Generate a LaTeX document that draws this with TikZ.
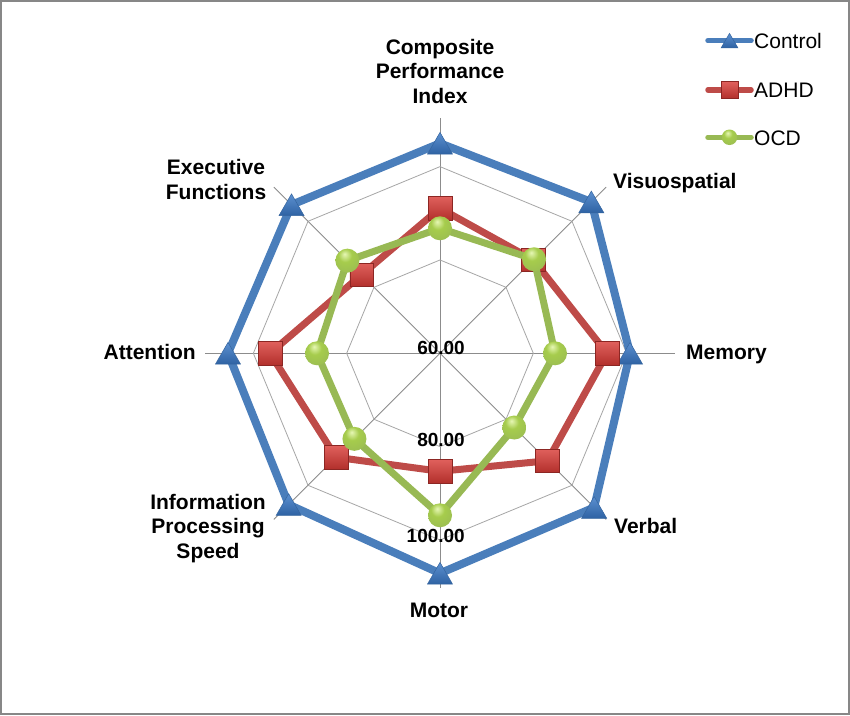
\documentclass[tikz,border=0pt]{standalone}
\usepackage{fontspec}
\setmainfont{Liberation Sans}
\usetikzlibrary{shapes.geometric,calc}
\definecolor{ctrlc}{HTML}{4A7EBB}
\definecolor{adhdc}{HTML}{BE4B48}
\definecolor{ocdc}{HTML}{98B954}
\definecolor{spokec}{HTML}{8C8C8C}
\definecolor{ringc}{HTML}{A6A6A6}
\definecolor{borderc}{HTML}{878787}
\definecolor{trit}{HTML}{5C90D0}
\definecolor{trib}{HTML}{2E62A3}
\definecolor{trid}{HTML}{35659F}
\definecolor{sqt}{HTML}{E0605C}
\definecolor{sqb}{HTML}{B2302C}
\definecolor{sqd}{HTML}{8C2623}
\definecolor{cin}{HTML}{E6F7B4}
\definecolor{cmid}{HTML}{A6CC4C}
\definecolor{cout}{HTML}{5E7E22}
\pgfdeclareradialshading{greenball}{\pgfpoint{-6bp}{14bp}}{color(0bp)=(cin); color(14bp)=(cmid); color(40bp)=(ocdc); color(66bp)=(cout)}
\begin{document}
\begin{tikzpicture}[x=1pt,y=1pt,
  spoke/.style={draw=spokec, line width=0.9pt},
  ring/.style={draw=ringc, line width=0.8pt},
  ctrlline/.style={draw=ctrlc, line width=8pt, line join=round},
  adhdline/.style={draw=adhdc, line width=7pt, line join=round},
  ocdline/.style={draw=ocdc, line width=7pt, line join=round},
  trimark/.style={regular polygon, regular polygon sides=3, minimum size=#1, inner sep=0pt, draw=trid, line width=0.5pt, top color=trit, bottom color=trib},
  sqmark/.style={rectangle, minimum size=#1, inner sep=0pt, draw=sqd, line width=0.5pt, top color=sqt, bottom color=sqb},
  cimark/.style={circle, minimum size=#1, inner sep=0pt, shading=greenball},
  axlab/.style={font=\bfseries\fontsize{21}{24.5}\selectfont, align=center, inner sep=0pt},
  vallab/.style={font=\bfseries\fontsize{19}{22}\selectfont, inner sep=0pt, anchor=base east},
  leglab/.style={font=\fontsize{21}{24}\selectfont, anchor=base west, inner sep=0pt}
]
\useasboundingbox (0,0) rectangle (850,715);
\fill[white] (0,0) rectangle (850,715);
\draw[draw=borderc, line width=2pt] (1,1) rectangle (849,714);
\coordinate (O) at (440,361.7);
% grid
\foreach \i in {1,...,8} {
  \coordinate (s\i) at ($(O)+({90-45*(\i-1)}:235)$);
  \coordinate (ra\i) at ($(O)+({90-45*(\i-1)}:93.33)$);
  \coordinate (rb\i) at ($(O)+({90-45*(\i-1)}:186.67)$);
}
\foreach \i in {1,...,8} { \draw[spoke] (O) -- (s\i); }
\draw[ring] (ra1) -- (ra2) -- (ra3) -- (ra4) -- (ra5) -- (ra6) -- (ra7) -- (ra8) -- cycle;
\draw[ring] (rb1) -- (rb2) -- (rb3) -- (rb4) -- (rb5) -- (rb6) -- (rb7) -- (rb8) -- cycle;
% data
\foreach \r [count=\i] in {210,214,190,218,220,214,212,210} {
  \coordinate (c\i) at ($(O)+({90-45*(\i-1)}:\r)$);
}
\foreach \r [count=\i] in {145,132,167,152,118,147,170,111} {
  \coordinate (a\i) at ($(O)+({90-45*(\i-1)}:\r)$);
}
\foreach \r [count=\i] in {125,133,115,105,162,121,123,131} {
  \coordinate (o\i) at ($(O)+({90-45*(\i-1)}:\r)$);
}
\draw[ctrlline] (c1) -- (c2) -- (c3) -- (c4) -- (c5) -- (c6) -- (c7) -- (c8) -- cycle;
\foreach \i in {1,...,8} { \node[trimark=29pt, yshift=-3.6pt] (ct\i) at (c\i) {}; }
\draw[adhdline] (a1) -- (a2) -- (a3) -- (a4) -- (a5) -- (a6) -- (a7) -- (a8) -- cycle;
\foreach \i in {1,...,8} { \node[sqmark=23.5pt] (at\i) at (a\i) {}; }
\draw[ocdline] (o1) -- (o2) -- (o3) -- (o4) -- (o5) -- (o6) -- (o7) -- (o8) -- cycle;
\foreach \i in {1,...,8} { \node[cimark=24pt] (ot\i) at (o\i) {}; }
% value labels
\node[vallab] (v60) at (465,360) {60.00};
\node[vallab] (v80) at (465,269) {80.00};
\node[vallab] (v100) at (465,172.3) {100.00};
% axis labels
\node[axlab] (lcomp) at (440,643.7) {Composite\\Performance\\Index};
\node[axlab, anchor=base west] (lvis) at (613,526.7) {Visuospatial};
\node[axlab, anchor=base west] (lmem) at (686,355) {Memory};
\node[axlab, anchor=base west] (lverb) at (614,181.7) {Verbal};
\node[axlab, anchor=base] (lmot) at (439,97.3) {Motor};
\node[axlab] (linfo) at (208,186.6) {Information\\Processing\\Speed};
\node[axlab, anchor=base east] (latt) at (196,355) {Attention};
\node[axlab] (lexec) at (216,535.3) {Executive\\Functions};
% legend
\coordinate (lg1a) at (708,674.3); \coordinate (lg1b) at (751,674.3);
\coordinate (lg2a) at (708,625); \coordinate (lg2b) at (751,625);
\coordinate (lg3a) at (708,577.7); \coordinate (lg3b) at (751,577.7);
\draw[ctrlline, line width=5.5pt, line cap=round] (lg1a) -- (lg1b);
\node[trimark=19.5pt, yshift=-2.4pt] (lgm1) at ($(lg1a)!0.5!(lg1b)$) {};
\draw[adhdline, line width=5.5pt, line cap=round] (lg2a) -- (lg2b);
\node[sqmark=16.5pt] (lgm2) at ($(lg2a)!0.5!(lg2b)$) {};
\draw[ocdline, line width=5.5pt, line cap=round] (lg3a) -- (lg3b);
\node[cimark=15.5pt] (lgm3) at ($(lg3a)!0.5!(lg3b)$) {};
\node[leglab] (lgt1) at (754,666.7) {Control};
\node[leglab] (lgt2) at (754,617.3) {ADHD};
\node[leglab] (lgt3) at (754,569.7) {OCD};
\end{tikzpicture}
\end{document}
